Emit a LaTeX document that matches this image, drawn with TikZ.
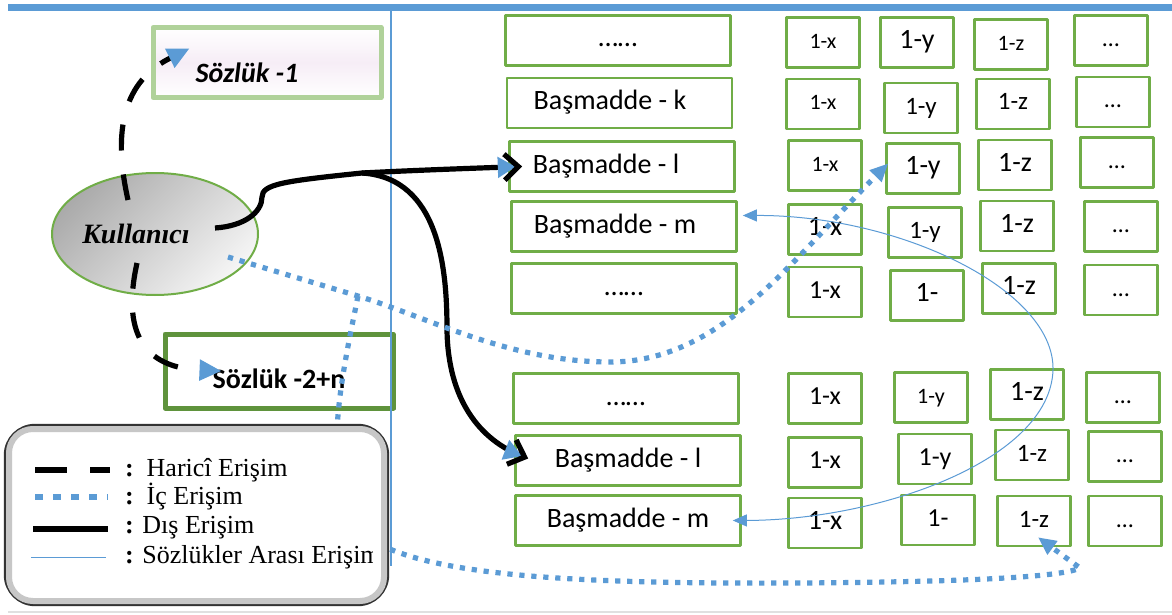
\documentclass[tikz,border=0pt]{standalone}
\usepackage{fontspec}
\setmainfont{Liberation Serif}
\newfontfamily\calibri{Carlito}
\usetikzlibrary{arrows.meta,shadows,shapes.geometric}

\definecolor{boxgreen}{RGB}{112,173,71}
\definecolor{accblue}{RGB}{91,155,213}

\tikzset{
  entry/.style={draw=boxgreen, line width=1.3pt, fill=white, minimum width=112.5pt,
    minimum height=25pt, inner sep=0pt, text height=9.5pt, text depth=3pt,
    font=\calibri\fontsize{14}{16}\selectfont},
  cell/.style={draw=boxgreen, line width=1.3pt, fill=white, minimum width=36.5pt,
    minimum height=25pt, inner sep=0pt, text height=8.5pt, text depth=2.5pt},
  harici/.style={line width=2.6pt, dash pattern=on 13pt off 12pt,
    -{Triangle[accblue,length=11pt,width=10pt]}},
  ic/.style={accblue, line width=2.6pt, dash pattern=on 2.6pt off 3.4pt,
    -{Triangle[length=9pt,width=8pt]}},
  dis/.style={line width=2.6pt,
    -{Triangle[accblue,length=9pt,width=10pt,sep=-7pt] Straight Barb[black,length=7pt,width=13pt]}},
  arasi/.style={accblue, line width=0.5pt,
    {Triangle[length=7pt,width=6pt]}-{Triangle[length=7pt,width=6pt]}},
}

\begin{document}
\begin{tikzpicture}[x=0.5pt,y=-0.5pt,line join=round]
\useasboundingbox (0,0) rectangle (1172,615);

%frame lines
\fill[accblue] (8,4) rectangle (1172,11);
\draw[black!12, line width=1pt] (8,612) -- (1172,612);

%user and dictionaries
\node[ellipse, draw=boxgreen, line width=1pt, minimum width=103pt, minimum height=61pt,
  top color=black!33, bottom color=black!4, shading angle=45,
  font=\fontsize{14}{16}\selectfont\bfseries\itshape] (user) at (155,234)
  {\hspace*{-19pt}Kullanıcı};
\node[draw=boxgreen!55, line width=2.5pt, minimum width=114pt, minimum height=35pt,
  top color=white, bottom color=white, middle color=violet!7,
  font=\calibri\fontsize{14}{16}\selectfont\bfseries\itshape] (sozluk1) at (267,62.5)
  {\raisebox{-5pt}[\height][\depth]{\hspace*{-20pt}Sözlük -1}};
\node[draw=boxgreen!85!black, line width=2.5pt, minimum width=114pt, minimum height=37pt, fill=white,
  drop shadow={shadow xshift=1.5pt, shadow yshift=-1.2pt, fill=black!75},
  font=\calibri\fontsize{14}{16}\selectfont\bfseries] (sozluk2) at (279,371)
  {\raisebox{-4pt}[\height][\depth]{Sözlük -2+n}};

%entries
\node[entry] (dot1)  at (618,40.5)  {……};
\node[entry] (bask)  at (619.5,103) {\hspace*{-9.5pt}Başmadde - k};
\node[entry] (basl)  at (622,166.5) {\hspace*{-16pt}Başmadde - l};
\node[entry] (basm)  at (624,226.5) {\hspace*{-9pt}Başmadde - m};
\node[entry] (dot2)  at (624,288.5) {……};
\node[entry] (dot3)  at (626,398.5) {……};
\node[entry] (basl2) at (628,460.5) {Başmadde - l};
\node[entry] (basm2) at (628,520.5) {Başmadde - m};

%cells
\foreach \nm/\px/\py/\txt/\fs in {
  x1/823/42.5/1-x/11, y1/917/42.5/1-y/14, z1/1011/44.5/1-z/11, d1/1111/40.5/…/12,
  x2/823/104/1-x/11, y2/921/108/1-y/12.5, z2/1013/104/1-z/12.5, d2/1113/102/…/12,
  x3/825/165.5/1-x/11, y3/923/168.5/1-y/14, z3/1015/165/1-z/14, d3/1117/162.5/…/12,
  x4/825/229.5/1-x/14, y4/925/232.5/1-y/12.5, z4/1017/226/1-z/14, d4/1121/226.5/…/12,
  x5/825/292/1-x/13, y5/927/295.5/1-/14, z5/1019/288.5/1-z/14, d5/1121/290/…/12,
  x6/825/398.5/1-x/13, y6/931/397.5/1-y/11, z6/1027/394.5/1-z/14, d6/1123/397.5/…/12,
  x7/825/462.5/1-x/13, y7/935/459/1-y/13, z7/1032/455/1-z/12.5, d7/1125/456.5/…/12,
  x8/825/523/1-x/14, y8/938/520/1-/13, z8/1034/521/1-z/12.5, d8/1125/521/…/12}
  \node[cell, font=\calibri\fontsize{\fs}{\fs}\selectfont] (\nm) at (\px,\py) {\txt};

\draw[accblue, line width=0.6pt] (391,11) -- (391,566);

%inner points
\coordinate (ut) at (128,200);
\coordinate (ub) at (137,263);
\coordinate (ur) at (215,228);
\coordinate (ui) at (228,257);
\coordinate (jn) at (362,173);
\coordinate (jd) at (358,296);

%external access
\draw[harici] (ut) .. controls (110,120) and (130,78) .. ([xshift=19.5pt,yshift=7pt]sozluk1.west);
\draw[harici] (ub) .. controls (120,340) and (150,368) .. ([xshift=29.5pt]sozluk2.west);

%outer access
\draw[line width=2.6pt] (ur) .. controls (245,226) and (262,212) .. (262,197)
  .. controls (262,184) and (285,181) .. (jn);
\draw[dis] (jn) .. controls (420,170) and (480,168) .. ([xshift=7pt]basl.west);
\draw[dis] (jn) .. controls (440,178) and (447,270) .. (447,330)
  .. controls (448,400) and (480,440) .. ([xshift=7pt,yshift=1pt]basl2.west);

%between dictionaries
\draw[arasi] ([xshift=2.5pt,yshift=5.5pt]basm.east) .. controls (900,215) and (1055,290) .. (1053,370)
  .. controls (1050,460) and (880,520) .. ([xshift=-4.5pt]basm2.east);

%inner access
\draw[ic] (ui) -- (jd) .. controls (430,318) and (510,362) .. (610,362)
  .. controls (720,362) and (790,262) .. ([xshift=1.5pt,yshift=2.5pt]y3.west);
\draw[ic] (jd) .. controls (345,360) and (330,430) .. (340,480)
  .. controls (350,520) and (360,535) .. (383,546)
  .. controls (450,578) and (600,584) .. (800,583)
  .. controls (950,582) and (1060,578) .. (1080,568) -- ([xshift=2pt,yshift=5pt]z8.south);

%legend
\node[draw=black!80, line width=1.2pt, fill=white, rounded corners=15pt,
  minimum width=191.5pt, minimum height=90pt] (legend) at (196.5,515) {};
\draw[black!22, line width=3pt, rounded corners=12pt] (9,429) rectangle (384,601);
\begin{scope}
  \clip (5,425) rectangle (372,605);
  \node[anchor=west, font=\fontsize{13}{15}\selectfont] (lg1) at (118,470) {\textbf{:}\ \ Haricî Erişim};
  \node[anchor=west, font=\fontsize{13}{15}\selectfont] (lg2) at (118,497) {\textbf{:}\ \ İç Erişim};
  \node[anchor=west, font=\fontsize{13}{15}\selectfont] (lg3) at (118,528) {\textbf{:} Dış Erişim};
  \node[anchor=west, font=\fontsize{13}{15}\selectfont] (lg4) at (118,557) {\textbf{:} Sözlükler Arası Erişim};
\end{scope}
\draw[line width=3.3pt, dash pattern=on 16pt off 11.5pt] (35,470) -- (110,470);
\draw[accblue, line width=3.3pt, dash pattern=on 4pt off 5pt] (35,497) -- (108,497);
\draw[line width=3.3pt] (33,529) -- (108,529);
\draw[accblue, line width=0.5pt] (31,557) -- (106,557);

\end{tikzpicture}
\end{document}
